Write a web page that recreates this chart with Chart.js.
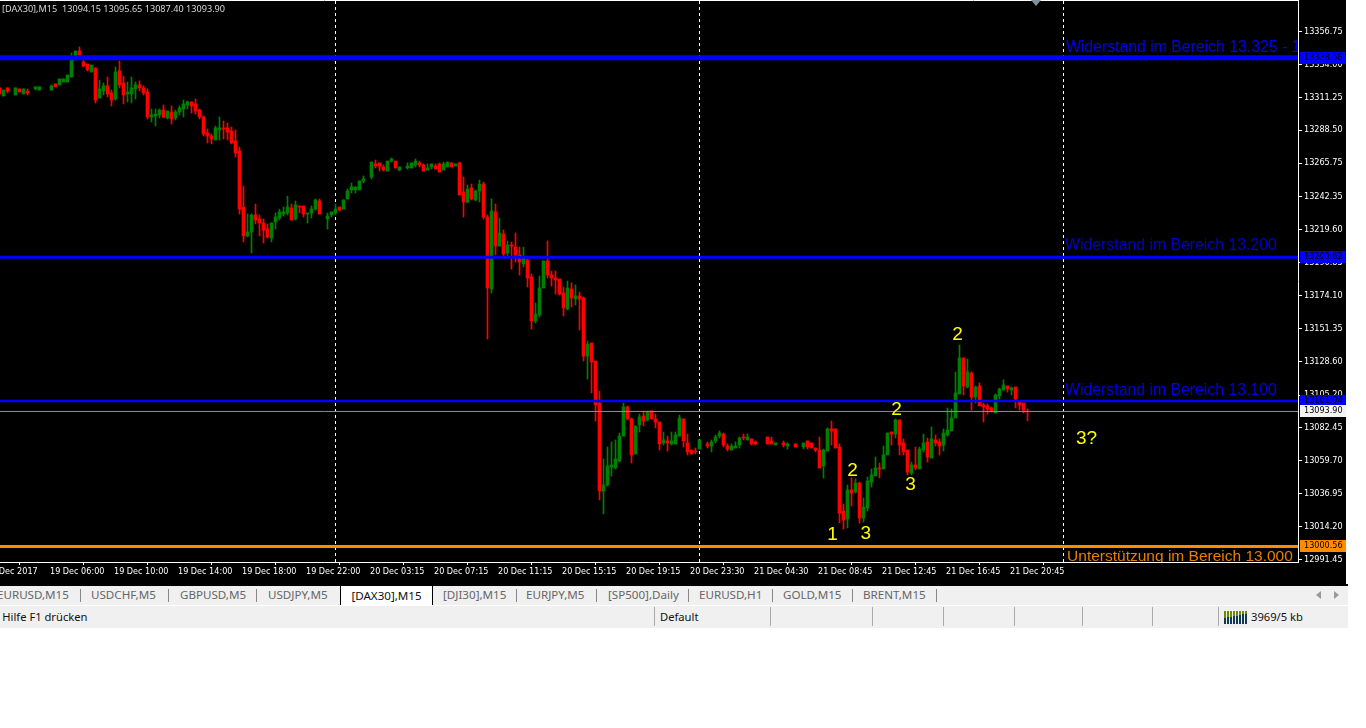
<!DOCTYPE html>
<html>
<head>
<meta charset="utf-8">
<title>DAX30 M15</title>
<script src="https://cdn.jsdelivr.net/npm/chart.js@4/dist/chart.umd.min.js"></script>
<style>
    html, body { margin: 0; padding: 0; background: #fff; overflow: hidden; }
    #wrap { position: relative; width: 1366px; height: 728px; font-family: "Noto Sans", sans-serif; }
    #chart { position: absolute; left: 0; top: 0; }
    #header { position: absolute; left: 2px; top: 2px; color: #d8d8d8; font: 9.15px "Noto Sans", sans-serif; white-space: pre; }
    #tabs { position: absolute; left: 0; top: 584px; width: 1348px; height: 21px; background: #f0f0f0; border-top: 2px solid #000; box-sizing: border-box; overflow: hidden; }
    #status { position: absolute; left: 0; top: 606px; width: 1348px; height: 22px; background: #f0f0f0; overflow: hidden; }
    .tab { position: absolute; top: 1px; font-size: 11.6px; line-height: 16px; color: #666; white-space: nowrap; }
    .tab.active { top: -2px; left: 340px; width: 91px; height: 19px; line-height: 20px; background: #fff; color: #111; text-align: center; border: 1px solid #000; border-top: 2px solid #000; border-top-color: #000; }
    .sep { position: absolute; top: 3px; width: 1px; height: 13px; background: #888; }
    .cell { position: absolute; top: 1px; width: 1px; height: 19px; background: #aaa; }
    .stat { position: absolute; top: 2px; font-size: 11.2px; line-height: 18px; color: #111; white-space: nowrap; }
    .sig { position: absolute; width: 2px; }
    .arrow { position: absolute; top: 5px; width: 0; height: 0; border-top: 4px solid transparent; border-bottom: 4px solid transparent; }
</style>
</head>
<body>
<div id="wrap">
    <canvas id="chart" width="1346" height="584"></canvas>
    <div id="header">[DAX30],M15  13094.15 13095.65 13087.40 13093.90</div>
    <div id="tabs"></div>
    <div id="status"></div>
</div>
<script>
"use strict";

// ---------- Data (bar 0 is the first bar at the left edge) ----------

const opens = [
    13317.7,13312.1,13317.7,null,13312.8,13317.0,13313.5,13315.5,null,13317.0,
    13316.2,null,null,13316.2,13320.4,13319.7,13321.8,13321.8,13325.2,13337.0,
    13343.2,13335.6,13334.2,13328.7,13331.5,13310.7,13315.5,13319.1,13314.2,13310.0,
    13329.4,13321.1,13313.5,13313.5,13317.0,13319.7,13317.7,13314.9,13297.6,13298.3,
    13299.0,13302.4,13296.9,13301.0,13296.9,13301.0,13303.1,13305.9,13308.0,13306.6,
    13302.4,13297.6,13286.5,13284.4,13281.7,13288.6,13290.0,13290.0,13287.9,13281.0,
    13274.1,13235.3,13215.3,13218.0,13229.8,13227.0,13224.3,13220.1,13213.9,13224.9,
    13227.7,13230.5,13231.2,13234.6,13227.0,13236.0,13236.0,13230.5,13231.2,13233.9,
    13239.5,null,13227.0,13229.8,13231.2,13235.3,13233.9,13240.9,13247.1,13247.1,
    13247.1,13253.3,null,13256.1,13265.1,13265.8,13263.0,13260.2,13267.1,13267.1,
    13260.9,null,13262.3,13262.3,13264.4,13265.8,13264.4,13260.9,13263.0,13263.7,
    13265.1,13260.9,13263.0,13265.8,13263.7,13265.8,13245.7,13238.8,13248.5,13240.2,
    13246.4,13251.2,13228.4,13178.6,13231.9,13208.3,13216.6,13203.5,13209.0,13207.6,
    13202.1,13195.9,13198.7,13186.9,13156.5,13160.6,13179.3,13198.0,13188.3,13186.2,
    13185.5,13175.8,13164.8,13178.6,13171.7,13173.8,13172.4,13132.2,13141.2,13128.8,
    13099.7,13038.9,13043.0,13055.5,13054.8,13059.6,13076.9,13097.0,13088.7,13064.5,
    13084.6,13090.8,13088.0,13094.2,13088.7,13086.6,13072.1,13073.5,13071.4,13071.4,
    13076.9,13088.7,13072.1,13067.2,13066.5,13067.9,null,13071.4,13070.0,13073.5,
    13076.9,13078.3,13070.0,13067.2,13068.6,13070.7,13076.2,13074.2,13074.9,13072.8,
    null,null,13076.2,13073.5,13070.7,null,13072.1,13070.0,null,13071.4,
    null,13069.3,13073.5,13072.1,13068.6,13067.2,13056.2,13066.5,13081.8,13081.8,
    13069.3,13025.0,13019.5,13039.6,13038.2,13044.4,13020.2,13027.1,13045.1,13049.3,
    13054.8,13054.1,13063.8,13079.7,13078.3,13088.0,13072.1,13067.2,13051.3,13056.9,
    13054.1,13067.2,13072.8,13061.7,13074.2,13072.8,13070.7,13077.6,13080.4,13089.4,
    13106.0,13130.9,13110.8,13120.5,13103.9,13111.5,13098.4,13097.7,13096.3,13092.8,
    13104.6,13108.7,13111.5,13108.7,13110.8,13100.4,13099.7,13094.15,
];

const closes = [
    13313.5,13316.2,13315.5,null,13317.7,13314.9,13317.0,13314.2,null,13318.4,
    13318.4,null,null,13319.1,13318.4,13323.9,13323.9,13326.6,13337.7,13343.2,
    13339.1,13332.9,13330.1,13333.5,13309.3,13317.0,13319.1,13313.5,13309.3,13328.7,
    13319.7,13312.8,13314.9,13317.7,13319.7,13317.7,13314.2,13297.6,13299.0,13299.6,
    13302.4,13297.6,13301.7,13296.2,13301.0,13303.8,13306.6,13308.0,13305.2,13301.7,
    13297.6,13285.8,13284.4,13282.4,13290.0,13290.0,13289.3,13287.2,13279.6,13272.7,
    13233.9,13215.3,13218.0,13229.8,13226.3,13224.3,13219.4,13214.6,13224.3,13228.4,
    13231.9,13231.9,13235.3,13226.3,13236.7,13235.3,13230.5,13231.2,13233.9,13240.2,
    13230.5,null,13229.1,13231.9,13233.9,13233.2,13240.2,13246.4,13249.2,13249.2,
    13253.3,13254.7,null,13266.4,13263.7,13263.7,13260.9,13267.1,13268.5,13262.3,
    13263.0,null,13263.7,13265.8,13267.1,13264.4,13260.2,13262.3,13265.1,13261.6,
    13259.5,13265.1,13266.4,13263.0,13265.1,13243.6,13238.8,13247.8,13240.9,13246.4,
    13251.2,13228.4,13179.3,13232.5,13208.3,13217.3,13202.8,13209.0,13208.3,13202.1,
    13197.3,13200.0,13186.2,13156.5,13161.3,13179.3,13198.0,13188.3,13186.2,13184.8,
    13175.1,13165.5,13179.3,13172.4,13173.8,13171.7,13132.2,13140.5,13128.1,13098.4,
    13038.9,13043.0,13056.2,13056.9,13061.0,13076.9,13097.0,13088.7,13063.8,13083.9,
    13090.1,13087.3,13093.5,13088.7,13086.6,13071.4,13074.2,13072.1,13073.5,13077.6,
    13089.4,13073.5,13065.9,13064.5,13065.9,13074.2,null,13070.0,13072.8,13076.2,
    13079.0,13070.7,13067.9,13070.0,13070.0,13075.5,13075.5,13076.2,13071.4,13071.4,
    null,null,13071.4,13071.4,13072.1,null,13070.7,13071.4,null,13069.3,
    null,13072.1,13069.3,13068.6,13067.2,13054.8,13067.2,13081.8,13080.4,13068.6,
    13023.6,13018.8,13039.6,13037.5,13044.4,13020.2,13027.8,13045.8,13050.0,13054.8,
    13054.1,13063.8,13079.0,13078.3,13088.0,13070.7,13065.9,13052.0,13056.9,13054.8,
    13067.9,13072.1,13062.4,13074.9,13072.1,13070.0,13079.0,13081.1,13089.4,13106.7,
    13130.9,13111.5,13121.2,13103.9,13110.8,13097.7,13097.0,13095.6,13094.2,13105.3,
    13109.4,13112.2,13109.4,13110.1,13102.5,13098.4,13094.9,13093.9,
];

const highs = [
    13317.7,13316.2,13317.7,null,13317.7,13317.0,13317.0,13317.0,null,13318.4,
    13318.4,null,null,13319.7,13320.4,13323.9,13323.9,13326.6,13341.8,13343.2,
    13346.0,13337.0,13334.2,13333.5,13331.5,13323.2,13321.1,13325.2,13316.2,13332.2,
    13336.3,13325.9,13321.8,13325.2,13321.8,13322.5,13319.1,13317.0,13303.1,13303.1,
    13303.1,13305.9,13301.7,13305.2,13302.4,13305.2,13309.3,13308.6,13308.0,13310.0,
    13303.1,13298.3,13289.3,13285.8,13291.3,13297.6,13294.8,13293.4,13290.7,13288.6,
    13276.8,13249.8,13230.5,13230.5,13237.4,13229.8,13227.0,13223.6,13224.3,13231.2,
    13233.9,13235.3,13242.9,13237.4,13239.5,13236.0,13236.0,13231.2,13236.0,13240.9,
    13240.9,null,13231.2,13231.9,13237.4,13235.3,13240.2,13247.8,13251.9,13249.2,
    13253.3,13256.8,null,13266.4,13267.8,13265.8,13264.4,13267.1,13269.2,13267.1,
    13263.0,null,13265.8,13265.8,13268.5,13267.1,13265.1,13265.1,13265.1,13265.1,
    13265.8,13266.4,13266.4,13265.8,13265.1,13266.4,13256.1,13250.5,13251.2,13247.1,
    13254.0,13252.6,13229.8,13240.9,13237.4,13227.7,13219.4,13211.8,13211.1,13217.3,
    13207.6,13207.6,13199.4,13189.0,13168.9,13187.6,13198.0,13211.8,13191.0,13191.0,
    13185.5,13180.0,13184.1,13182.8,13181.4,13176.5,13173.1,13142.6,13141.2,13128.8,
    13108.0,13061.0,13069.3,13072.8,13074.2,13079.0,13099.7,13097.7,13089.4,13083.9,
    13092.1,13094.2,13094.2,13094.2,13092.1,13086.6,13079.7,13076.9,13079.7,13079.7,
    13091.4,13088.7,13078.3,13067.2,13068.6,13074.2,null,13072.8,13074.2,13077.6,
    13080.4,13079.0,13071.4,13071.4,13072.8,13076.2,13078.3,13078.3,13074.9,13073.5,
    null,null,13076.2,13076.2,13072.1,null,13073.5,13072.1,null,13071.4,
    null,13072.1,13073.5,13072.1,13068.6,13076.2,13067.9,13082.5,13087.3,13081.8,
    13071.4,13029.9,13043.0,13047.9,13047.2,13045.1,13034.0,13048.6,13054.1,13062.4,
    13058.2,13070.0,13079.0,13079.7,13088.7,13088.0,13074.9,13067.2,13058.9,13069.3,
    13069.3,13078.3,13075.5,13083.2,13077.6,13074.9,13081.8,13096.3,13095.6,13121.2,
    13139.9,13130.9,13130.2,13121.2,13111.5,13113.6,13099.7,13099.1,13097.0,13106.0,
    13110.1,13115.7,13111.5,13110.8,13110.8,13100.4,13099.7,13095.65,
];

const lows = [
    13313.5,13312.1,13314.2,null,13312.8,13314.9,13313.5,13312.8,null,13316.2,
    13316.2,null,null,13316.2,13318.4,13319.7,13321.8,13321.8,13325.2,13337.0,
    13339.1,13332.2,13329.4,13328.7,13307.3,13310.7,13312.8,13311.4,13305.2,13309.3,
    13317.7,13306.6,13308.0,13307.3,13310.0,13315.5,13312.8,13296.2,13294.1,13291.3,
    13296.9,13296.9,13296.2,13292.7,13295.5,13299.0,13297.6,13303.1,13300.3,13299.6,
    13296.2,13284.4,13279.6,13278.9,13281.7,13281.7,13282.4,13281.7,13278.9,13269.9,
    13230.5,13211.1,13214.6,13203.5,13223.6,13215.3,13210.4,13213.9,13211.1,13220.1,
    13226.3,13229.1,13229.8,13226.3,13226.3,13231.2,13228.4,13224.3,13227.7,13233.2,
    13230.5,null,13220.1,13228.4,13229.8,13232.5,13233.9,13240.9,13245.0,13245.0,
    13247.1,13251.9,null,13254.7,13262.3,13260.2,13260.2,13260.2,13266.4,13262.3,
    13260.2,null,13261.6,13262.3,13263.0,13263.0,13260.2,13260.9,13261.6,13261.6,
    13259.5,13260.9,13263.0,13263.0,13263.7,13243.6,13228.4,13238.1,13240.2,13239.5,
    13238.8,13227.0,13144.0,13175.8,13202.1,13208.3,13201.4,13201.4,13192.4,13197.3,
    13188.3,13193.8,13180.0,13150.9,13155.1,13159.2,13179.3,13186.2,13180.7,13175.1,
    13174.4,13159.9,13164.1,13166.2,13167.5,13150.2,13128.8,13116.3,13106.7,13087.3,
    13032.7,13023.0,13042.3,13049.2,13054.1,13058.9,13076.9,13088.0,13058.2,13064.5,
    13079.7,13083.9,13087.3,13088.7,13082.5,13067.2,13070.7,13066.5,13070.7,13071.4,
    13076.9,13069.3,13063.8,13064.5,13064.5,13067.9,null,13068.6,13065.9,13072.1,
    13075.5,13069.3,13066.5,13067.2,13068.6,13068.6,13074.2,13074.2,13070.7,13070.7,
    null,null,13071.4,13071.4,13070.7,null,13069.3,13067.9,null,13069.3,
    null,13067.9,13067.9,13068.6,13065.9,13054.8,13047.9,13066.5,13070.7,13068.6,
    13016.7,13012.6,13013.3,13028.5,13037.5,13016.7,13017.4,13025.0,13041.6,13049.3,
    13047.9,13054.1,13063.8,13070.7,13075.5,13063.8,13063.8,13050.0,13050.0,13053.4,
    13054.1,13065.9,13058.9,13061.7,13070.0,13063.8,13066.5,13076.9,13080.4,13089.4,
    13106.0,13105.3,13110.1,13094.9,13099.7,13097.7,13086.6,13092.1,13093.5,13092.8,
    13102.5,13108.7,13107.3,13105.3,13096.3,13094.9,13092.8,13087.4,
];

const priceTicks = [
    13356.75,13334.00,13311.25,13288.50,13265.75,13242.35,13219.60,13196.85,13174.10,
    13151.35,13128.60,13105.20,13082.45,13059.70,13036.95,13014.20,12991.45,
];

// bar index of each time label; the first one sits left of the visible range
const timeTickBars = [-3,13,29,45,61,77,93,109,125,141,157,173,189,205,221,237,253];
const timeLabels = [
    "19 Dec 2017","19 Dec 06:00","19 Dec 10:00","19 Dec 14:00","19 Dec 18:00","19 Dec 22:00",
    "20 Dec 03:15","20 Dec 07:15","20 Dec 11:15","20 Dec 15:15","20 Dec 19:15","20 Dec 23:30",
    "21 Dec 04:30","21 Dec 08:45","21 Dec 12:45","21 Dec 16:45","21 Dec 20:45",
];

const separatorBars = [84, 175, 266];

const levelPrices = [13338.58, 13200.62, 13101.04, 13093.90, 13000.56];
const levelColors = ["#0000ff", "#0000ff", "#0000ff", "#909090", "#ff8c00"];
const levelWidths = [5, 3, 2.5, 1, 3];
const boxColors = ["#0000ff", "#0000ff", "#0000ff", "#f4f4f4", "#ff8c00"];

const levelNotes = [
    "Widerstand im Bereich 13.325 - 13.340",
    "Widerstand im Bereich 13.200",
    "Widerstand im Bereich 13.100",
    "Unterstützung im Bereich 13.000",
];
const levelNoteBars = [266.6, 266.4, 266.4, 266.9];
const levelNotePrices = [13342.5, 13205.6, 13105.3, 12990.5];
const levelNoteColors = ["#0000f0", "#0000c8", "#0000e0", "#e87f00"];
const levelNoteSizes = [15.8, 15.8, 15.8, 15.5];

const waveLabels = ["1", "2", "3", "2", "3", "2", "3?"];
const waveBars = [208.25, 213.25, 216.6, 224.25, 227.75, 239.5, 271.75];
const wavePrices = [13005.0, 13049.3, 13005.7, 13091.4, 13039.6, 13143.3, 13071.4];

const tabNames = ["EURUSD,M15","USDCHF,M5","GBPUSD,M5","USDJPY,M5","[DJI30],M15","EURJPY,M5","[SP500],Daily","EURUSD,H1","GOLD,M15","BRENT,M15"];

// ---------- Layout ----------

const BAR_MIN = 0.125;
const BAR_MAX = 324.625;
const PRICE_MIN = 12989.76;
const PRICE_MAX = 13378.5;
const AXIS_FONT = { family: "DejaVu Sans Condensed", size: 9 };
const TAB_LEFT = [-3, 91, 180, 268, 443, 526, 608, 699, 783, 863];
const TAB_SEPS = [80, 168, 256, 516, 596, 688, 772, 852, 936];
const STATUS_SEPS = [654, 770, 872, 943, 1014, 1082, 1152, 1218];

// ---------- Chart ----------

const barIndexes = opens.map((_, i) => i);

function pointsOf(lo, hi) {
    return barIndexes.filter((i) => lo[i] !== null).map((i) => ({ x: i, y: [lo[i], hi[i]] }));
}

function hline(price, color, width) {
    return {
        type: "line",
        data: [{ x: BAR_MIN, y: price }, { x: BAR_MAX, y: price }],
        borderColor: color,
        borderWidth: width,
        pointRadius: 0,
        order: 1,
    };
}

function vline(bar) {
    return {
        type: "line",
        data: [{ x: bar, y: PRICE_MIN }, { x: bar, y: PRICE_MAX }],
        borderColor: "#ffffff",
        borderWidth: 1,
        borderDash: [3, 3],
        pointRadius: 0,
        order: 4,
    };
}

const bodyColors = barIndexes
    .filter((i) => opens[i] !== null)
    .map((i) => (closes[i] >= opens[i] ? "#008000" : "#ff0000"));

const datasets = [
    ...separatorBars.map(vline),
    {
        data: pointsOf(lows, highs),
        backgroundColor: bodyColors,
        barThickness: 1,
        grouped: false,
        order: 3,
    },
    {
        data: pointsOf(opens, closes),
        backgroundColor: bodyColors,
        barThickness: 3,
        grouped: false,
        order: 2,
    },
    ...levelPrices.map((p, i) => hline(p, levelColors[i], levelWidths[i])),
];

// notes, price boxes and the frame are drawn on top of the scales
const overlayPlugin = {
    id: "overlay",
    afterDraw(chart) {
        const { ctx, chartArea, scales } = chart;
        const area = chartArea;
        ctx.save();

        ctx.strokeStyle = "#ffffff";
        ctx.lineWidth = 1;
        ctx.beginPath();
        ctx.moveTo(0, 0.5);
        ctx.lineTo(area.right, 0.5);
        ctx.stroke();

        ctx.fillStyle = "#8090a0";
        ctx.beginPath();
        ctx.moveTo(1031, 0);
        ctx.lineTo(1041, 0);
        ctx.lineTo(1036, 6);
        ctx.fill();

        ctx.save();
        ctx.beginPath();
        ctx.rect(0, 0, area.right, area.bottom);
        ctx.clip();
        ctx.textBaseline = "alphabetic";
        ctx.textAlign = "left";
        levelNotes.forEach((t, i) => {
            ctx.font = `${levelNoteSizes[i]}px "Liberation Sans"`;
            ctx.fillStyle = levelNoteColors[i];
            ctx.fillText(t, scales.x.getPixelForValue(levelNoteBars[i]), scales.y.getPixelForValue(levelNotePrices[i]));
        });
        ctx.font = '19px "Liberation Sans"';
        ctx.textAlign = "center";
        ctx.fillStyle = "#ffff00";
        waveLabels.forEach((t, i) => {
            ctx.fillText(t, scales.x.getPixelForValue(waveBars[i]), scales.y.getPixelForValue(wavePrices[i]));
        });
        ctx.restore();

        ctx.font = `${AXIS_FONT.size}px "${AXIS_FONT.family}"`;
        ctx.textAlign = "left";
        ctx.textBaseline = "middle";
        levelPrices.forEach((p, i) => {
            const y = Math.round(scales.y.getPixelForValue(p));
            ctx.fillStyle = boxColors[i];
            ctx.fillRect(area.right + 2, y - 6, chart.width - area.right - 2, 12);
            ctx.fillStyle = "#000000";
            ctx.fillText(p.toFixed(2), area.right + 6, y);
        });
        ctx.restore();
    },
};

const chart = new Chart(document.getElementById("chart"), {
    type: "bar",
    data: { datasets },
    plugins: [overlayPlugin],
    options: {
        responsive: false,
        animation: false,
        devicePixelRatio: 1,
        layout: { padding: 0 },
        plugins: { legend: { display: false }, tooltip: { enabled: false } },
        scales: {
            x: {
                type: "linear",
                offset: false,
                min: BAR_MIN,
                max: BAR_MAX,
                border: { color: "#ffffff" },
                grid: { display: true, drawOnChartArea: false, color: "#ffffff", tickLength: 3 },
                afterBuildTicks: (scale) => {
                    scale.ticks = timeTickBars.map((value) => ({ value }));
                },
                afterFit: (scale) => {
                    scale.height = 22;
                    scale.paddingLeft = scale.paddingRight = 0;
                },
                ticks: {
                    autoSkip: false,
                    maxRotation: 0,
                    minRotation: 0,
                    align: "start",
                    labelOffset: -1.5,
                    padding: 1,
                    color: "#ffffff",
                    font: AXIS_FONT,
                    callback: (v, i) => timeLabels[i],
                },
            },
            y: {
                type: "linear",
                position: "right",
                min: PRICE_MIN,
                max: PRICE_MAX,
                border: { color: "#ffffff" },
                grid: { display: true, drawOnChartArea: false, color: "#ffffff", tickLength: 4 },
                afterBuildTicks: (scale) => {
                    scale.ticks = priceTicks.map((value) => ({ value }));
                },
                afterFit: (scale) => {
                    scale.width = 48;
                    scale.paddingTop = scale.paddingBottom = 0;
                },
                ticks: {
                    autoSkip: false,
                    padding: 2,
                    color: "#ffffff",
                    font: AXIS_FONT,
                    callback: (v) => v.toFixed(2),
                },
            },
        },
    },
});

// black plot background
document.getElementById("chart").style.background = "#000";

// ---------- Tabs and status bar ----------

function addEl(parent, cls, styles, text) {
    const el = document.createElement("div");
    el.className = cls;
    Object.assign(el.style, styles);
    if (text) el.textContent = text;
    parent.appendChild(el);
    return el;
}

const tabsEl = document.getElementById("tabs");
tabNames.forEach((name, i) => addEl(tabsEl, "tab", { left: TAB_LEFT[i] + "px" }, name));
TAB_SEPS.forEach((x) => addEl(tabsEl, "sep", { left: x + "px" }));
addEl(tabsEl, "tab active", {}, "[DAX30],M15");
addEl(tabsEl, "arrow", { left: "1316px", borderRight: "5px solid #999" });
addEl(tabsEl, "arrow", { left: "1334px", borderLeft: "5px solid #999" });

const statusEl = document.getElementById("status");
addEl(statusEl, "stat", { left: "-18px" }, "Für Hilfe F1 drücken");
addEl(statusEl, "stat", { left: "660px" }, "Default");
addEl(statusEl, "stat", { left: "1251px" }, "3969/5 kb");
STATUS_SEPS.forEach((x) => addEl(statusEl, "cell", { left: x + "px" }));

// signal strength icon
for (let k = 0; k < 8; k++) {
    const x = 1224 + k * 3;
    addEl(statusEl, "sig", { left: x + "px", top: "5px", height: (7 - k * 0.6) + "px", background: "#6f8a00" });
    addEl(statusEl, "sig", { left: x + "px", top: (12 - k * 0.6) + "px", height: (6 + k * 0.6) + "px", background: "#0f3a55" });
}
</script>
</body>
</html>
